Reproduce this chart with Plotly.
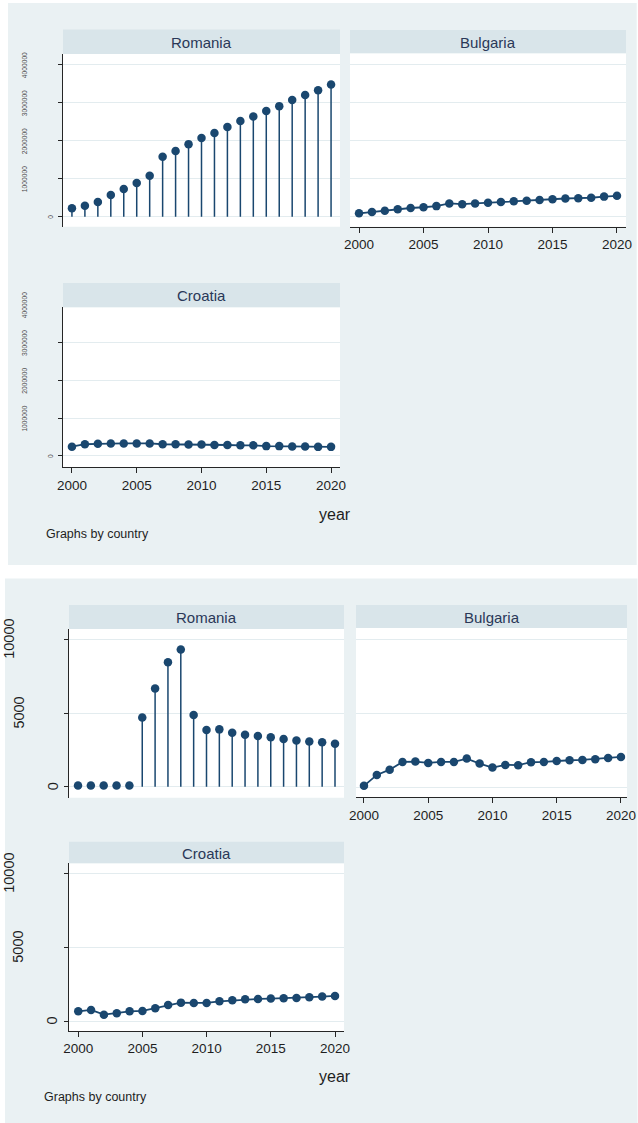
import plotly.graph_objects as go

# ---------------- data ----------------
years = [2000, 2001, 2002, 2003, 2004, 2005, 2006, 2007, 2008, 2009, 2010,
         2011, 2012, 2013, 2014, 2015, 2016, 2017, 2018, 2019, 2020]
tick_years = [2000, 2005, 2010, 2015, 2020]

top_romania = [220000, 290000, 390000, 570000, 730000, 890000, 1080000, 1580000,
               1730000, 1910000, 2070000, 2200000, 2360000, 2520000, 2640000,
               2780000, 2910000, 3070000, 3200000, 3330000, 3480000]
top_bulgaria = [70000, 105000, 140000, 180000, 210000, 230000, 260000, 330000,
                310000, 330000, 350000, 370000, 390000, 400000, 420000, 440000,
                460000, 470000, 480000, 510000, 530000]
top_croatia = [245000, 310000, 320000, 330000, 330000, 330000, 330000, 310000,
               310000, 300000, 300000, 290000, 290000, 280000, 280000, 260000,
               260000, 250000, 250000, 240000, 240000]

bottom_romania = [80, 80, 80, 80, 80, 4700, 6670, 8450, 9310, 4860, 3840, 3890,
                  3660, 3530, 3440, 3350, 3230, 3140, 3070, 3010, 2920]
bottom_bulgaria = [100, 835, 1190, 1710, 1735, 1645, 1710, 1710, 1935, 1600, 1330,
                   1510, 1490, 1690, 1710, 1780, 1825, 1845, 1890, 1980, 2050]
bottom_croatia = [656, 747, 430, 520, 656, 679, 860, 1086, 1244, 1222, 1222, 1335,
                  1403, 1470, 1493, 1516, 1538, 1561, 1606, 1652, 1697]

top_yticks = [0, 1000000, 2000000, 3000000, 4000000]
top_yticklabels = ["0", "1000000", "2000000", "3000000", "4000000"]
bottom_yticks = [0, 5000, 10000]
bottom_yticklabels = ["0", "5000", "10000"]

x_title = "year"
note_text = "Graphs by country"

# ---------------- styling / layout helpers ----------------
W, H = 638, 1123


def fx(x):
    return x / W


def fy(y):
    return 1 - y / H


NAVY = "#1A476F"
BG = "#EAF1F3"
STRIP = "#D9E5EA"
GRID = "#E3ECEF"
AXIS = "#262626"
TITLE_C = "#2A3858"
FONT = "Liberation Sans, Arial, sans-serif"

panels = [
    dict(name="Romania", values=top_romania, stems=True,
         dx=(63, 340), dy=(54, 226.7), xr=(1999.31, 2020.69), yr=(-263000, 4282000),
         sy=(29.5, 54), showx=False, showy=True, kind="top"),
    dict(name="Bulgaria", values=top_bulgaria, stems=False,
         dx=(350, 626), dy=(53.3, 226.7), xr=(1999.30, 2020.70), yr=(-281600, 4282000),
         sy=(30, 53.3), showx=True, showy=False, kind="top"),
    dict(name="Croatia", values=top_croatia, stems=False,
         dx=(63, 340), dy=(307.3, 467.3), xr=(1999.31, 2020.69), yr=(-300000, 3930000),
         sy=(283, 307.3), showx=True, showy=True, kind="top"),
    dict(name="Romania", values=bottom_romania, stems=True,
         dx=(69, 344), dy=(629, 797.7), xr=(1999.30, 2020.70), yr=(-746, 10699),
         sy=(605, 629), showx=False, showy=True, kind="bottom"),
    dict(name="Bulgaria", values=bottom_bulgaria, stems=False,
         dx=(356, 627), dy=(628, 797.3), xr=(1999.38, 2020.47), yr=(-674, 10742),
         sy=(605, 628), showx=True, showy=False, kind="bottom"),
    dict(name="Croatia", values=bottom_croatia, stems=False,
         dx=(69, 344), dy=(863.3, 1031), xr=(1999.28, 2020.70), yr=(-677, 10677),
         sy=(841.7, 863.3), showx=True, showy=True, kind="bottom"),
]

fig = go.Figure()
shapes = [
    dict(type="rect", xref="paper", yref="paper", x0=fx(8), x1=fx(636.7),
         y0=fy(565), y1=fy(3), fillcolor=BG, line=dict(width=0), layer="below"),
    dict(type="rect", xref="paper", yref="paper", x0=fx(5), x1=fx(637.5),
         y0=fy(1123), y1=fy(578.5), fillcolor=BG, line=dict(width=0), layer="below"),
]
annotations = []

for i, p in enumerate(panels, start=1):
    xa = "x" if i == 1 else f"x{i}"
    ya = "y" if i == 1 else f"y{i}"
    xkey = "xaxis" if i == 1 else f"xaxis{i}"
    ykey = "yaxis" if i == 1 else f"yaxis{i}"
    yt = top_yticks if p["kind"] == "top" else bottom_yticks

    if p["stems"]:
        fig.add_trace(go.Scatter(
            x=years, y=p["values"], xaxis=xa, yaxis=ya, mode="markers",
            marker=dict(color=NAVY, size=8.5),
            error_y=dict(type="data", symmetric=False, array=[0] * len(p["values"]),
                         arrayminus=p["values"], width=0, thickness=1.5, color=NAVY),
            showlegend=False, cliponaxis=False))
    else:
        fig.add_trace(go.Scatter(
            x=years, y=p["values"], xaxis=xa, yaxis=ya, mode="lines+markers",
            marker=dict(color=NAVY, size=8.5), line=dict(color=NAVY, width=1.8),
            showlegend=False, cliponaxis=False))

    fig.layout[xkey] = dict(
        domain=[fx(p["dx"][0]), fx(p["dx"][1])], range=list(p["xr"]), anchor=ya,
        showgrid=False, zeroline=False, showline=p["showx"], linecolor=AXIS, linewidth=1,
        ticks="outside" if p["showx"] else "", ticklen=5, tickcolor=AXIS, tickwidth=1,
        tickvals=tick_years, showticklabels=p["showx"],
        tickfont=dict(family=FONT, size=13.5, color="#1e1e1e"), fixedrange=True)
    fig.layout[ykey] = dict(
        domain=[fy(p["dy"][1]), fy(p["dy"][0])], range=list(p["yr"]), anchor=xa,
        showgrid=True, gridcolor=GRID, gridwidth=1.2, zeroline=False,
        showline=p["showy"], linecolor=AXIS, linewidth=1,
        ticks="outside" if p["showy"] else "", ticklen=4, tickcolor=AXIS, tickwidth=1,
        tickvals=yt, showticklabels=False, fixedrange=True)

    # white plot region
    shapes.append(dict(type="rect", xref="paper", yref="paper",
                       x0=fx(p["dx"][0]), x1=fx(p["dx"][1]),
                       y0=fy(p["dy"][1]), y1=fy(p["dy"][0]),
                       fillcolor="white", line=dict(width=0), layer="below"))
    # strip header
    shapes.append(dict(type="rect", xref="paper", yref="paper",
                       x0=fx(p["dx"][0]), x1=fx(p["dx"][1]),
                       y0=fy(p["sy"][1]), y1=fy(p["sy"][0]),
                       fillcolor=STRIP, line=dict(width=0), layer="below"))
    annotations.append(dict(
        text=p["name"], xref="paper", yref="paper",
        x=fx((p["dx"][0] + p["dx"][1]) / 2), y=fy((p["sy"][0] + p["sy"][1]) / 2 + 0.5),
        xanchor="center", yanchor="middle", showarrow=False,
        font=dict(family=FONT, size=15, color=TITLE_C)))

    # rotated y tick labels (Stata style)
    if p["showy"]:
        labels = top_yticklabels if p["kind"] == "top" else bottom_yticklabels
        top_px, bot_px = p["dy"]
        r0, r1 = p["yr"]
        axis_x = p["dx"][0]
        for v, lab in zip(yt, labels):
            ypx = bot_px - (v - r0) / (r1 - r0) * (bot_px - top_px)
            if p["kind"] == "top":
                cx = axis_x - 12 - (len(lab) - 1) * 4.42
                fsize, col = 6.7, "#4a4a4a"
            else:
                cx = axis_x - 16.5 - (len(lab) - 1) * 11.3
                fsize, col = 14.5, "#1e1e1e"
            cx = max(cx, 9.5)
            annotations.append(dict(
                text=lab, xref="paper", yref="paper", x=fx(cx), y=fy(ypx),
                xanchor="center", yanchor="middle", textangle=-90, showarrow=False,
                borderpad=0, borderwidth=0,
                font=dict(family=FONT, size=fsize, color=col)))

# axis titles and notes
for yy in (514, 1076):
    annotations.append(dict(text=x_title, xref="paper", yref="paper", x=fx(352.5), y=fy(yy),
                            xanchor="right", yanchor="middle", showarrow=False,
                            font=dict(family=FONT, size=16, color="#1e1e1e")))
for xx, yy in ((44, 534.3), (42, 1097.3)):
    annotations.append(dict(text=note_text, xref="paper", yref="paper", x=fx(xx), y=fy(yy),
                            xanchor="left", yanchor="middle", showarrow=False,
                            font=dict(family=FONT, size=12.5, color="#1e1e1e")))

fig.update_layout(
    width=W, height=H, autosize=False,
    margin=dict(l=0, r=0, t=0, b=0, pad=0, autoexpand=False),
    paper_bgcolor="white", plot_bgcolor="rgba(0,0,0,0)",
    shapes=shapes, annotations=annotations, showlegend=False,
    font=dict(family=FONT),
)

fig.write_html("out.html", config={"displayModeBar": False})
